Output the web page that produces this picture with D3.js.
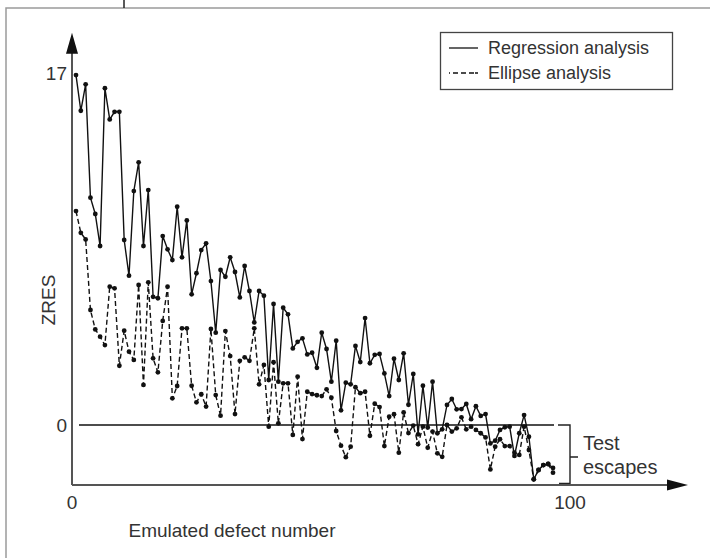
<!DOCTYPE html>
<html>
<head>
<meta charset="utf-8">
<script src="https://cdn.jsdelivr.net/npm/d3@7"></script>
<style>
  html, body { margin: 0; padding: 0; background: #fff; }
  svg { display: block; }
  text { font-family: "Liberation Sans", Arial, sans-serif; fill: #333; }
</style>
</head>
<body>
<div id="chart"></div>
<script>
const WIDTH = 710;
const HEIGHT = 558;

// defect numbers 1..100
const defectNumbers = d3.range(1, 101);

const regressionZres = [
  16.95, 15.22, 16.50, 11.01, 10.22, 8.67, 16.31, 14.80, 15.17, 15.17,
  8.96, 7.23, 11.33, 12.72, 8.67, 11.38, 6.21, 6.14, 9.15, 8.51,
  7.99, 10.57, 8.12, 9.91, 6.33, 7.35, 8.47, 8.80, 6.97, 4.47,
  7.51, 7.18, 8.12, 7.41, 6.18, 7.70, 6.49, 4.97, 6.49, 6.26,
  2.18, 5.86, 2.10, 5.68, 5.36, 3.71, 4.03, 4.20, 3.42, 3.50,
  2.77, 4.47, 3.68, 2.10, 4.08, 0.71, 2.05, 1.97, 3.83, 3.05,
  5.18, 2.99, 3.40, 3.44, 2.50, 1.40, 3.21, 2.18, 3.47, 0.98,
  2.47, -0.45, 1.90, -0.12, 2.10, -0.40, -0.21, 0.97, 1.26, 0.76,
  0.77, 1.02, 0.28, 0.91, 0.44, 0.53, -0.89, -0.76, -0.24, -0.11,
  -0.08, -1.50, -0.40, 0.48, -0.57, -2.63, -2.18, -1.94, -1.89, -2.08
];

const ellipseZres = [
  10.36, 9.31, 8.99, 5.57, 4.63, 4.28, 3.87, 6.70, 6.62, 2.87,
  4.57, 3.55, 3.15, 6.78, 1.94, 6.91, 3.23, 2.55, 5.04, 6.70,
  1.29, 1.89, 4.68, 4.68, 1.90, 1.10, 1.49, 0.89, 4.65, 1.45,
  0.45, 4.55, 3.34, 0.53, 3.11, 3.28, 3.11, 4.68, 1.97, 2.91,
  -0.08, 3.04, 0.08, 2.02, 2.02, -0.48, 2.34, -0.68, 1.61, 1.50,
  1.44, 1.40, 1.73, 1.32, -0.29, -1.00, -1.56, -1.05, 1.83, 1.54,
  1.61, -0.52, 1.03, 0.87, -1.02, 0.40, 0.52, -1.34, 0.61, -0.39,
  -0.03, -0.93, -0.08, -1.10, -0.32, -1.37, -1.54, 0.00, -0.32, -0.16,
  0.37, -0.21, -0.08, -0.24, -0.40, -0.60, -2.15, -1.05, -0.69, -1.02,
  -1.02, -1.34, -1.45, -0.08, -1.21, -2.63, -2.18, -1.94, -1.89, -2.31
];

const yTickValues = [0, 17];
const xTickValues = [0, 100];
const seriesNames = ['Regression analysis', 'Ellipse analysis'];

const Y_MIN = -2.9;
const Y_ARROW = 19;

const x = d3.scaleLinear().domain([1, 100]).range([76, 553]);
const xAxisScale = d3.scaleLinear().domain([0, 100]).range([72, 570]);
const y = d3.scaleLinear().domain([0, 17]).range([425, 74]);

const svg = d3.select('#chart')
  .append('svg')
  .attr('width', WIDTH)
  .attr('height', HEIGHT);

// outer frame (partially cropped)
svg.append('path')
  .attr('d', `M6,${HEIGHT} V8 H${WIDTH}`)
  .attr('fill', 'none')
  .attr('stroke', '#9a9a9a')
  .attr('stroke-width', 1.5);
svg.append('line')
  .attr('x1', 124).attr('x2', 124).attr('y1', 0).attr('y2', 8)
  .attr('stroke', '#222').attr('stroke-width', 1.5);

const originX = xAxisScale(0);
const originY = y(Y_MIN);
const axisColor = '#555';

// axes
svg.append('line')
  .attr('x1', originX).attr('x2', originX)
  .attr('y1', originY).attr('y2', y(Y_ARROW) + 20)
  .attr('stroke', axisColor).attr('stroke-width', 2);
svg.append('path')
  .attr('d', `M${originX},${y(Y_ARROW)} L${originX - 6},${y(Y_ARROW) + 21} L${originX + 6},${y(Y_ARROW) + 21} Z`)
  .attr('fill', '#111');

svg.append('line')
  .attr('x1', originX).attr('x2', 668)
  .attr('y1', originY).attr('y2', originY)
  .attr('stroke', axisColor).attr('stroke-width', 2);
svg.append('path')
  .attr('d', `M688,${originY} L667,${originY - 5.5} L667,${originY + 5.5} Z`)
  .attr('fill', '#111');

// tick labels
svg.selectAll('.ytick')
  .data(yTickValues)
  .join('text')
  .attr('class', 'ytick')
  .attr('x', originX - 5)
  .attr('y', d => y(d) + (d === 17 ? -1 : 0))
  .attr('dy', '0.35em')
  .attr('text-anchor', 'end')
  .attr('font-size', 19)
  .text(d => d);

svg.selectAll('.xtick')
  .data(xTickValues)
  .join('text')
  .attr('class', 'xtick')
  .attr('x', d => xAxisScale(d))
  .attr('y', originY + 17)
  .attr('dy', '0.35em')
  .attr('text-anchor', 'middle')
  .attr('font-size', 19)
  .text(d => d);

// axis titles
svg.append('text')
  .attr('x', 232)
  .attr('y', 530)
  .attr('dy', '0.35em')
  .attr('text-anchor', 'middle')
  .attr('font-size', 19)
  .text('Emulated defect number');

svg.append('text')
  .attr('transform', 'translate(48,300) rotate(-90)')
  .attr('dy', '0.35em')
  .attr('text-anchor', 'middle')
  .attr('font-size', 19)
  .text('ZRES');

// zero line and test-escape bracket
svg.append('line')
  .attr('x1', 79).attr('x2', x(100) + 1)
  .attr('y1', y(0)).attr('y2', y(0))
  .attr('stroke', '#111').attr('stroke-width', 1.4);

const bx = xAxisScale(100);
svg.append('path')
  .attr('d', `M558,${y(0)} H${bx} V${originY - 1.5} H559 M${bx},${(y(0) + originY) / 2 + 2} h8`)
  .attr('fill', 'none')
  .attr('stroke', '#222')
  .attr('stroke-width', 1.4);

svg.append('text')
  .attr('x', 583).attr('y', 443)
  .attr('dy', '0.35em')
  .attr('font-size', 20)
  .text('Test');
svg.append('text')
  .attr('x', 583).attr('y', 467)
  .attr('dy', '0.35em')
  .attr('font-size', 20)
  .text('escapes');

// series
const line = d3.line()
  .x((d, i) => x(defectNumbers[i]))
  .y(d => y(d));

const series = [
  { name: seriesNames[0], values: regressionZres, dash: null },
  { name: seriesNames[1], values: ellipseZres, dash: '5,3' }
];

series.slice().reverse().forEach(s => {
  svg.append('path')
    .datum(s.values)
    .attr('d', line)
    .attr('fill', 'none')
    .attr('stroke', '#111')
    .attr('stroke-width', 1.4)
    .attr('stroke-dasharray', s.dash);

  svg.append('g')
    .selectAll('circle')
    .data(s.values)
    .join('circle')
    .attr('cx', (d, i) => x(defectNumbers[i]))
    .attr('cy', d => y(d))
    .attr('r', 2.4)
    .attr('fill', '#111');
});

// legend
const legend = svg.append('g').attr('class', 'legend');
legend.append('rect')
  .attr('x', 440.5).attr('y', 32.5)
  .attr('width', 232).attr('height', 57)
  .attr('fill', '#fff')
  .attr('stroke', '#444')
  .attr('stroke-width', 1.3);

series.forEach((s, i) => {
  const ly = 48 + i * 25;
  legend.append('line')
    .attr('x1', 449).attr('x2', 478)
    .attr('y1', ly).attr('y2', ly)
    .attr('stroke', '#111')
    .attr('stroke-width', 1.3)
    .attr('stroke-dasharray', s.dash ? '1,3,5,3,5,3,5' : null);
  legend.append('text')
    .attr('x', 488).attr('y', ly)
    .attr('dy', '0.35em')
    .attr('font-size', 18)
    .text(s.name);
});
</script>
</body>
</html>
